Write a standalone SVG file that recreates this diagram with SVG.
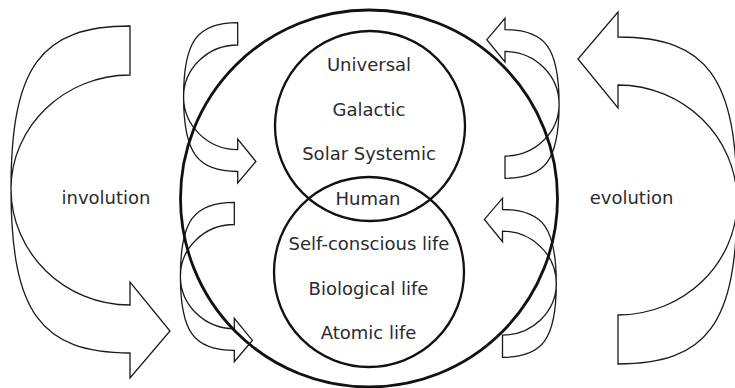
<svg xmlns="http://www.w3.org/2000/svg" width="735" height="388" viewBox="0 0 735 388">
<style>
.arrow{fill:none;stroke:#1a1a1a;stroke-width:1.3;vector-effect:non-scaling-stroke;stroke-linejoin:miter}
.ring{fill:none;stroke:#111;stroke-width:2.3}
.ring-big{fill:none;stroke:#111;stroke-width:2.8}
text{font-family:"DejaVu Sans","Liberation Sans",sans-serif;font-size:18px;fill:#2b2b2b;text-anchor:middle}
</style>
<defs>
<path id="carrow" class="arrow" d="M130,26 C40.75,26 11,66.75 11,189 C11,312 40.75,353 130,353 L130,378 L170,331 L130,282 L130,305 C64.5,305 11,252.8 11,189 C11,126.3 64.5,75 130,75 Z"/>
</defs>
<rect width="735" height="388" fill="#fff"/>
<g id="connectors">
<use href="#carrow"/>
<use href="#carrow" transform="matrix(-1,0,0,-1,748,390)"/>
<use href="#carrow" transform="matrix(0.455,0,0,0.455,178.55,10.87)"/>
<use href="#carrow" transform="matrix(0.453,0,0,0.453,175.41,190.52)"/>
<use href="#carrow" transform="matrix(-0.4545,0,0,-0.4545,564.09,190.12)"/>
<use href="#carrow" transform="matrix(-0.452,0,0,-0.452,561.26,369.05)"/>
</g>
<g id="outer-circle"><circle class="ring-big" cx="369" cy="198.5" r="188.5"/></g>
<g id="upper-circle">
<circle class="ring" cx="370" cy="126" r="95"/>
<text x="369" y="71">Universal</text>
<text x="369" y="116">Galactic</text>
<text x="369" y="160">Solar Systemic</text>
</g>
<g id="human"><text x="368" y="205">Human</text></g>
<g id="lower-circle">
<circle class="ring" cx="369" cy="272" r="95"/>
<text x="369" y="250">Self-conscious life</text>
<text x="368.5" y="295">Biological life</text>
<text x="368.5" y="339">Atomic life</text>
</g>
<g id="involution"><text x="106" y="204">involution</text></g>
<g id="evolution"><text x="631.5" y="204">evolution</text></g>
</svg>
